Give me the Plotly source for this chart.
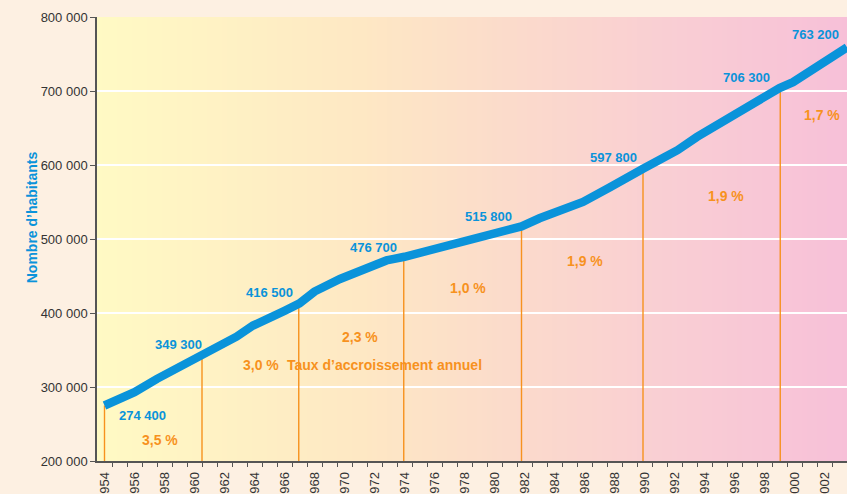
import numpy as np
import plotly.graph_objects as go

# ---- data ----
line_years = [1954.0, 1956.0, 1957.5, 1959.0, 1960.5, 1961.7, 1962.8, 1963.9, 1965.0, 1966.0,
              1967.0, 1968.0, 1969.7, 1970.8, 1972.8, 1974.0, 1974.8, 1975.9, 1977.9, 1979.7,
              1981.8, 1983.0, 1983.9, 1985.9, 1987.7, 1988.8, 1989.9, 1991.2, 1992.2, 1993.5,
              1994.8, 1995.9, 1997.0, 1997.9, 1999.0, 1999.9, 2001.0, 2002.4, 2003.5]
line_pop = [275000, 293000, 311000, 327000, 344000, 356000, 368000, 383000, 392000, 403000,
            413000, 429000, 446000, 455000, 471000, 476000, 480000, 487000, 498000, 507000,
            517000, 528000, 534000, 550000, 570000, 584000, 595000, 609000, 620000, 638000,
            654000, 669000, 681000, 692000, 704000, 712000, 726000, 742000, 759000]

census_labels = ["274 400", "349 300", "416 500", "476 700", "515 800", "597 800", "706 300", "763 200"]
census_axis_pos = [1954.0, 1960.5, 1966.95, 1973.95, 1981.8, 1989.9, 1999.05]
growth_rates = ["3,5 %", "3,0 %", "2,3 %", "1,0 %", "1,9 %", "1,9 %", "1,7 %"]
rate_caption = "Taux d’accroissement annuel"

tick_years = list(range(1954, 2003, 2))
tick_year_labels = [str(y) for y in tick_years]
y_ticks = [200000, 300000, 400000, 500000, 600000, 700000, 800000]
y_tick_labels = ["200 000", "300 000", "400 000", "500 000", "600 000", "700 000", "800 000"]

# ---- label placement (layout) ----
value_label_pos = [(1956.5, 261200), (1958.9, 357200), (1965.0, 427300), (1971.9, 488400),
                   (1979.6, 530500), (1987.9, 610800), (1996.8, 717600), (2001.4, 776100)]
rate_label_pos = [(1957.7, 228000), (1964.4, 329300), (1971.05, 367200), (1978.2, 434200),
                  (1986.0, 470700), (1995.4, 558500), (2001.8, 668000)]
caption_pos = (1972.65, 329300)

BLUE = "#0A93DA"
ORANGE = "#F7921E"
FONT = "Liberation Sans, Arial, sans-serif"
X_RANGE = [1953.5, 2003.5]

fig = go.Figure()

# vertical census lines
vx, vy = [], []
for cx in census_axis_pos:
    top = float(np.interp(cx, line_years, line_pop))
    vx += [cx, cx, None]
    vy += [200000, top, None]
fig.add_trace(go.Scatter(x=vx, y=vy, mode="lines", line=dict(color=ORANGE, width=1.4),
                         hoverinfo="skip", showlegend=False))

# population line
fig.add_trace(go.Scatter(x=line_years, y=line_pop, mode="lines",
                         line=dict(color=BLUE, width=8.5), showlegend=False))

# gradient background via thin rects
stops = [(0.0, (255, 250, 196)), (0.35, (254, 232, 196)), (0.55, (251, 219, 203)),
         (0.78, (249, 205, 212)), (1.0, (247, 192, 216))]
sp = [s[0] for s in stops]
N = 150
shapes = []
for i in range(N):
    t = (i + 0.5) / N
    col = [int(round(np.interp(t, sp, [s[1][k] for s in stops]))) for k in range(3)]
    shapes.append(dict(type="rect", xref="paper", yref="paper", x0=i / N, x1=min(1, (i + 1.6) / N),
                       y0=0, y1=1, fillcolor=f"rgb({col[0]},{col[1]},{col[2]})",
                       line=dict(width=0), layer="below"))

annotations = []
for (x, y), txt in zip(value_label_pos, census_labels):
    annotations.append(dict(x=x, y=y, text=f"<b>{txt}</b>", showarrow=False,
                            font=dict(family=FONT, size=13, color=BLUE)))
for (x, y), txt in zip(rate_label_pos, growth_rates):
    annotations.append(dict(x=x, y=y, text=f"<b>{txt}</b>", showarrow=False,
                            font=dict(family=FONT, size=14, color=ORANGE)))
annotations.append(dict(x=caption_pos[0], y=caption_pos[1], text=f"<b>{rate_caption}</b>",
                        showarrow=False, font=dict(family=FONT, size=14, color=ORANGE)))
annotations.append(dict(x=-0.1, y=0.549, xref="paper", yref="paper", text="<b>Nombre d’habitants</b>",
                        textangle=-90, showarrow=False,
                        font=dict(family=FONT, size=14, color=BLUE)))

fig.update_layout(
    width=847, height=494,
    margin=dict(l=97, r=0, t=17, b=33, autoexpand=False),
    paper_bgcolor="#FDF0E2",
    plot_bgcolor="#FDF0E2",
    shapes=shapes,
    annotations=annotations,
    showlegend=False,
    xaxis=dict(range=X_RANGE, tickmode="array", tickvals=tick_years, ticktext=tick_year_labels,
               tickangle=-90, ticks="outside", ticklen=4, tickcolor="rgba(0,0,0,0)",
               automargin=False,
               showgrid=False, zeroline=False, showline=True, linecolor="#555555", linewidth=1.5,
               tickfont=dict(family=FONT, size=13, color="#333333"),
               minor=dict(tickmode="array", tickvals=[X_RANGE[0] + i for i in range(1, 50)],
                          ticks="outside", ticklen=4, tickcolor="#555555", tickwidth=1,
                          showgrid=False)),
    yaxis=dict(range=[200000, 800000], tickmode="array", tickvals=y_ticks, ticktext=y_tick_labels,
               automargin=False,
               ticks="outside", ticklen=5, tickcolor="#555555", showgrid=True,
               gridcolor="#FFFFFF", gridwidth=1.5, zeroline=False, showline=True,
               linecolor="#555555", linewidth=1.5,
               tickfont=dict(family=FONT, size=13, color="#333333")),
)

fig.write_html("out.html", config={"displayModeBar": False},
               post_script="document.body.style.margin='0';document.body.style.overflow='hidden';"
                           "document.body.style.background='#FDF0E2';")
